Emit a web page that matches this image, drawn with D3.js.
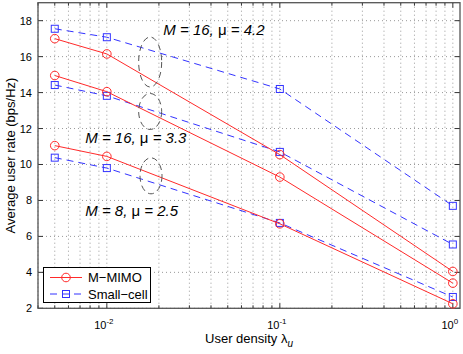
<!DOCTYPE html>
<html><head><meta charset="utf-8">
<script src="https://cdn.jsdelivr.net/npm/d3@7"></script>
<style>body{margin:0;background:#fff}text{font-family:Arial,"Liberation Sans",sans-serif}</style>
</head><body>
<svg id="c" width="463" height="354"></svg>
<script>
const densities = [0.005, 0.01, 0.1, 1];
const mimo42 = [17.0, 16.15, 10.55, 4.05];
const mimo33 = [14.95, 14.05, 9.3, 3.4];
const mimo25 = [11.05, 10.45, 6.7, 2.25];
const small42 = [17.55, 17.08, 14.2, 7.7];
const small33 = [14.42, 13.82, 10.7, 5.55];
const small25 = [10.38, 9.8, 6.75, 2.63];
const yTicks = [2, 4, 6, 8, 10, 12, 14, 16, 18];
const xTicks = [0.01, 0.1, 1];
const xTickExp = ["-2", "-1", "0"];
const annotations = [
  {M: "8", mu: "2.5", x: 0.0075, y: 7.15},
  {M: "16", mu: "3.3", x: 0.0075, y: 11.2},
  {M: "16", mu: "4.2", x: 0.0212, y: 17.2}
];
const ellipses = [
  {x: 0.0178, y: 15.7},
  {x: 0.0178, y: 12.95},
  {x: 0.018, y: 9.37}
];
const ellR = [[11.5, 25], [11.5, 18], [11, 18]];

const svg = d3.select("#c");
const L = 38, R = 460, T = 2.7, B = 308.3;
const x = d3.scaleLog().domain([0.004, 1.1]).range([L, R]);
const y = d3.scaleLinear().domain([2, 19]).range([B, T]);

const minor = [];
for (let e = -3; e <= 0; e++) for (let k = 1; k <= 9; k++) {
  const v = k * Math.pow(10, e);
  if (v >= 0.004 && v <= 1.1) minor.push(v);
}
const g = svg.append("g");
g.selectAll(".gx").data(minor).enter().append("line")
  .attr("x1", d => x(d)).attr("x2", d => x(d)).attr("y1", T).attr("y2", B)
  .attr("stroke", "#999").attr("stroke-width", 1).attr("stroke-dasharray", "1,3");
g.selectAll(".gy").data(yTicks).enter().append("line")
  .attr("x1", L).attr("x2", R).attr("y1", d => y(d)).attr("y2", d => y(d))
  .attr("stroke", "#999").attr("stroke-width", 1).attr("stroke-dasharray", "1,3");

const isMajor = d => xTicks.some(t => Math.abs(t - d) < 1e-9);
g.selectAll(".tb").data(minor).enter().append("line")
  .attr("x1", d => x(d)).attr("x2", d => x(d)).attr("y1", B).attr("y2", d => B - (isMajor(d) ? 5 : 3))
  .attr("stroke", "#333");
g.selectAll(".tt").data(minor).enter().append("line")
  .attr("x1", d => x(d)).attr("x2", d => x(d)).attr("y1", T).attr("y2", d => T + (isMajor(d) ? 5 : 3))
  .attr("stroke", "#333");
g.selectAll(".tl").data(yTicks).enter().append("line")
  .attr("x1", L).attr("x2", L + 5).attr("y1", d => y(d)).attr("y2", d => y(d)).attr("stroke", "#333");
g.selectAll(".tr").data(yTicks).enter().append("line")
  .attr("x1", R).attr("x2", R - 5).attr("y1", d => y(d)).attr("y2", d => y(d)).attr("stroke", "#333");

g.append("rect").attr("x", L).attr("y", T).attr("width", R - L).attr("height", B - T)
  .attr("fill", "none").attr("stroke", "#555").attr("stroke-width", 1.3);

g.selectAll(".yl").data(yTicks).enter().append("text")
  .attr("x", L - 6).attr("y", d => y(d) + 4).attr("text-anchor", "end")
  .attr("font-size", 11).text(d => d);
xTicks.forEach((t, i) => {
  const tx = g.append("text").attr("x", x(t) - 3).attr("y", 329).attr("text-anchor", "middle").attr("font-size", 11);
  tx.append("tspan").text("10");
  tx.append("tspan").attr("dy", -5).attr("font-size", 8).text(xTickExp[i]);
});

const xl = svg.append("text").attr("x", 249).attr("y", 343).attr("text-anchor", "middle").attr("font-size", 13);
xl.append("tspan").text("User density  \u03bb");
xl.append("tspan").attr("dy", 4).attr("font-size", 10).attr("font-style", "italic").text("u");
svg.append("text").attr("transform", `translate(15,${(T + B) / 2}) rotate(-90)`)
  .attr("text-anchor", "middle").attr("font-size", 13).text("Average user rate (bps/Hz)");

const red = "#ff2a2a", blue = "#3333ff";
const line = d3.line().x((d, i) => x(densities[i])).y(d => y(d));
const pg = svg.append("g");
[small42, small33, small25].forEach(s => {
  pg.append("path").attr("d", line(s)).attr("fill", "none").attr("stroke", blue)
    .attr("stroke-width", 1).attr("stroke-dasharray", "7,5");
  pg.selectAll(null).data(s).enter().append("rect")
    .attr("x", (d, i) => x(densities[i]) - 3.5).attr("y", d => y(d) - 3.5)
    .attr("width", 7).attr("height", 7).attr("fill", "none").attr("stroke", blue);
});
[mimo42, mimo33, mimo25].forEach(s => {
  pg.append("path").attr("d", line(s)).attr("fill", "none").attr("stroke", red).attr("stroke-width", 1);
  pg.selectAll(null).data(s).enter().append("circle")
    .attr("cx", (d, i) => x(densities[i])).attr("cy", d => y(d)).attr("r", 4.3)
    .attr("fill", "none").attr("stroke", red);
});

ellipses.forEach((e, i) => {
  pg.append("ellipse").attr("cx", x(e.x)).attr("cy", y(e.y)).attr("rx", ellR[i][0]).attr("ry", ellR[i][1])
    .attr("fill", "none").attr("stroke", "#555").attr("stroke-width", 1).attr("stroke-dasharray", "6,4");
});

annotations.forEach(a => {
  const t = pg.append("text").attr("x", x(a.x)).attr("y", y(a.y)).attr("font-size", 15).attr("font-style", "italic");
  t.append("tspan").text("M");
  t.append("tspan").text(" = " + a.M + ", ");
  t.append("tspan").attr("font-style", "normal").text("\u03bc");
  t.append("tspan").text(" = " + a.mu);
});

const lg = svg.append("g");
lg.append("rect").attr("x", 43.5).attr("y", 267.5).attr("width", 107).attr("height", 35)
  .attr("fill", "#fff").attr("stroke", "#000").attr("stroke-width", 1);
const items = [{name: "M\u2212MIMO", c: red, dash: null, m: "c", yy: 277.5},
               {name: "Small\u2212cell", c: blue, dash: "7,5", m: "s", yy: 294}];
items.forEach(it => {
  lg.append("line").attr("x1", 50).attr("x2", 82).attr("y1", it.yy).attr("y2", it.yy)
    .attr("stroke", it.c).attr("stroke-dasharray", it.dash);
  if (it.m === "c") lg.append("circle").attr("cx", 66).attr("cy", it.yy).attr("r", 4.3).attr("fill", "none").attr("stroke", it.c);
  else lg.append("rect").attr("x", 62.5).attr("y", it.yy - 3.5).attr("width", 7).attr("height", 7).attr("fill", "none").attr("stroke", it.c);
  lg.append("text").attr("x", 88).attr("y", it.yy + 4.5).attr("font-size", 13).text(it.name);
});
</script>
</body></html>
